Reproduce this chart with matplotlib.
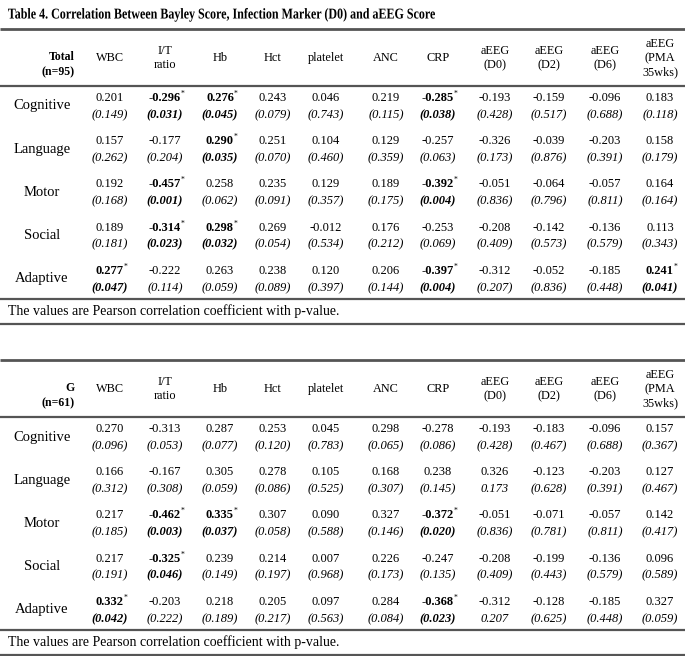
import matplotlib
matplotlib.use("Agg")
import matplotlib.pyplot as plt
from matplotlib.textpath import TextPath
from matplotlib.patches import PathPatch
from matplotlib.font_manager import FontProperties
from matplotlib.transforms import Affine2D

plt.rcParams['font.family'] = ['Liberation Serif', 'DejaVu Serif']

# ---- data ----
columns = ["WBC", "I/T\nratio", "Hb", "Hct", "platelet", "ANC", "CRP",
           "aEEG\n(D0)", "aEEG\n(D2)", "aEEG\n(D6)", "aEEG\n(PMA\n35wks)"]
rows = ["Cognitive", "Language", "Motor", "Social", "Adaptive"]

total_r = [
    [0.201, -0.296, 0.276, 0.243, 0.046, 0.219, -0.285, -0.193, -0.159, -0.096, 0.183],
    [0.157, -0.177, 0.290, 0.251, 0.104, 0.129, -0.257, -0.326, -0.039, -0.203, 0.158],
    [0.192, -0.457, 0.258, 0.235, 0.129, 0.189, -0.392, -0.051, -0.064, -0.057, 0.164],
    [0.189, -0.314, 0.298, 0.269, -0.012, 0.176, -0.253, -0.208, -0.142, -0.136, 0.113],
    [0.277, -0.222, 0.263, 0.238, 0.120, 0.206, -0.397, -0.312, -0.052, -0.185, 0.241],
]
total_p = [
    [0.149, 0.031, 0.045, 0.079, 0.743, 0.115, 0.038, 0.428, 0.517, 0.688, 0.118],
    [0.262, 0.204, 0.035, 0.070, 0.460, 0.359, 0.063, 0.173, 0.876, 0.391, 0.179],
    [0.168, 0.001, 0.062, 0.091, 0.357, 0.175, 0.004, 0.836, 0.796, 0.811, 0.164],
    [0.181, 0.023, 0.032, 0.054, 0.534, 0.212, 0.069, 0.409, 0.573, 0.579, 0.343],
    [0.047, 0.114, 0.059, 0.089, 0.397, 0.144, 0.004, 0.207, 0.836, 0.448, 0.041],
]
g_r = [
    [0.270, -0.313, 0.287, 0.253, 0.045, 0.298, -0.278, -0.193, -0.183, -0.096, 0.157],
    [0.166, -0.167, 0.305, 0.278, 0.105, 0.168, 0.238, 0.326, -0.123, -0.203, 0.127],
    [0.217, -0.462, 0.335, 0.307, 0.090, 0.327, -0.372, -0.051, -0.071, -0.057, 0.142],
    [0.217, -0.325, 0.239, 0.214, 0.007, 0.226, -0.247, -0.208, -0.199, -0.136, 0.096],
    [0.332, -0.203, 0.218, 0.205, 0.097, 0.284, -0.368, -0.312, -0.128, -0.185, 0.327],
]
g_p = [
    [0.096, 0.053, 0.077, 0.120, 0.783, 0.065, 0.086, 0.428, 0.467, 0.688, 0.367],
    [0.312, 0.308, 0.059, 0.086, 0.525, 0.307, 0.145, 0.173, 0.628, 0.391, 0.467],
    [0.185, 0.003, 0.037, 0.058, 0.588, 0.146, 0.020, 0.836, 0.781, 0.811, 0.417],
    [0.191, 0.046, 0.149, 0.197, 0.968, 0.173, 0.135, 0.409, 0.443, 0.579, 0.589],
    [0.042, 0.222, 0.189, 0.217, 0.563, 0.084, 0.023, 0.207, 0.625, 0.448, 0.059],
]
g_no_paren = [(1, 7), (4, 7)]  # p-values printed without brackets

title = "Table 4. Correlation Between Bayley Score, Infection Marker (D0) and aEEG Score"
note = "The values are Pearson correlation coefficient with p-value."

# ---- layout (pixels) ----
col_x = [110, 165, 220, 273, 326, 386, 438, 495, 549, 605, 660]
label_x = 42
rule_c = "#555555"

fig = plt.figure(figsize=(6.85, 6.56), dpi=100, facecolor="white")
ax = fig.add_axes([0, 0, 1, 1])
ax.set_xlim(0, 685)
ax.set_ylim(656, 0)
ax.axis("off")

# title is set in a condensed bold face: squeeze the glyphs horizontally
tp = TextPath((0, 0), title, size=15,
              prop=FontProperties(family="Liberation Serif", weight="bold"))
ext = tp.get_extents()
sx = 427.0 / ext.width
tr = Affine2D().translate(-ext.x0, 0).scale(sx, -1).translate(8, 18.5)
ax.add_patch(PathPatch(tr.transform_path(tp), facecolor="black", lw=0))


def draw_table(top, group, n, r, p, no_paren=()):
    ax.plot([0, 685], [top, top], color=rule_c, lw=2.0, solid_capstyle="butt")
    head_y = top + 29
    for x, c in zip(col_x, columns):
        ax.text(x, head_y, c, fontsize=8.8, ha="center", va="center", linespacing=1.25)
    ax.text(75, head_y + 7, group + "\n" + n, fontsize=8.5, fontweight="bold",
            ha="right", va="center", linespacing=1.35)
    hl = top + 57
    ax.plot([0, 685], [hl, hl], color=rule_c, lw=1.6, solid_capstyle="butt")
    for i, lab in enumerate(rows):
        yc = hl + 20 + i * 43.2
        ax.text(label_x, yc, lab, fontsize=10.5, ha="center", va="center")
        for j, x in enumerate(col_x):
            sig = p[i][j] < 0.05
            w = "bold" if sig else "normal"
            t = ax.text(x, yc - 8, "%.3f" % r[i][j], fontsize=9, fontweight=w,
                        ha="center", va="center")
            if sig:
                ax.annotate("*", xy=(1, 1), xycoords=t, xytext=(-0.3, 1.5),
                            textcoords="offset points", fontsize=5.5,
                            ha="left", va="top")
            ps = "%.3f" % p[i][j]
            if (i, j) not in no_paren:
                ps = "(" + ps + ")"
            ax.text(x, yc + 9, ps, fontsize=9, fontweight=w, style="italic",
                    ha="center", va="center")
    bl = hl + 20 + 4 * 43.2 + 20
    ax.plot([0, 685], [bl, bl], color=rule_c, lw=1.6, solid_capstyle="butt")
    ax.text(8, bl + 12, note, fontsize=10, ha="left", va="center")
    ax.plot([0, 685], [bl + 25, bl + 25], color=rule_c, lw=1.6, solid_capstyle="butt")


draw_table(29, "Total", "(n=95)", total_r, total_p)
draw_table(360, "G", "(n=61)", g_r, g_p, g_no_paren)

fig.savefig("out.png", dpi=100, facecolor="white")
